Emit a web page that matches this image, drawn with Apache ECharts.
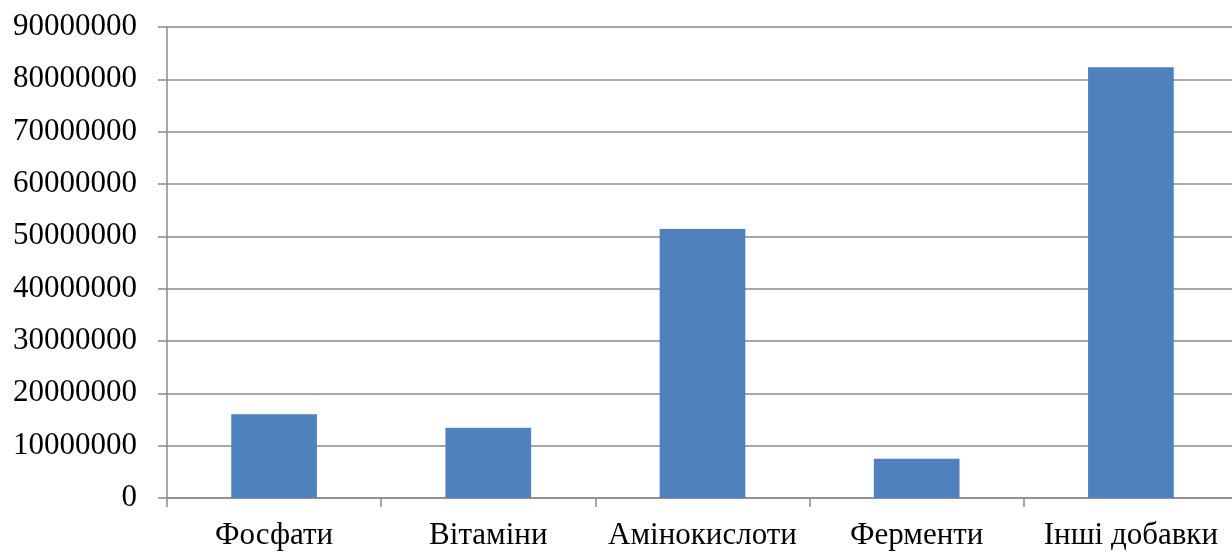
<!DOCTYPE html>
<html><head><meta charset="utf-8">
<script src="https://cdn.jsdelivr.net/npm/echarts@6/dist/echarts.min.js"></script>
<style>html,body{margin:0;padding:0;background:#fff}#c{width:1232px;height:554px}</style>
</head><body><div id="c"></div>
<script>
const categories = ['Фосфати', 'Вітаміни', 'Амінокислоти', 'Ферменти', 'Інші добавки'];
const values = [16000000, 13400000, 51400000, 7500000, 82300000];
const yMin = 0, yMax = 90000000, yStep = 10000000;

const chart = echarts.init(document.getElementById('c'), null, {renderer: 'canvas'});
const font = '"Liberation Serif", "Times New Roman", serif';
const lineCol = '#8a8a8a';
chart.setOption({
  animation: false,
  grid: {left: 167, top: 27, width: 1071, height: 471, containLabel: false, outerBoundsMode: 'none'},
  xAxis: {
    type: 'category', data: categories, boundaryGap: true,
    axisLine: {lineStyle: {color: lineCol, width: 1.5}},
    axisTick: {show: true, length: 9, alignWithLabel: false, lineStyle: {color: lineCol, width: 1.5}},
    axisLabel: {fontFamily: font, fontSize: 31, color: '#000', margin: 22, interval: 0}
  },
  yAxis: {
    type: 'value', min: yMin, max: yMax, interval: yStep,
    axisLine: {show: true, lineStyle: {color: lineCol, width: 1.5}},
    axisTick: {show: true, length: 9, lineStyle: {color: lineCol, width: 1.5}},
    splitLine: {show: true, lineStyle: {color: lineCol, width: 1.5}},
    axisLabel: {fontFamily: font, fontSize: 31, color: '#000', margin: 30, formatter: v => String(v)}
  },
  series: [{
    type: 'bar', data: values, barWidth: '40%',
    itemStyle: {color: '#4F81BD'}
  }]
});
</script></body></html>
